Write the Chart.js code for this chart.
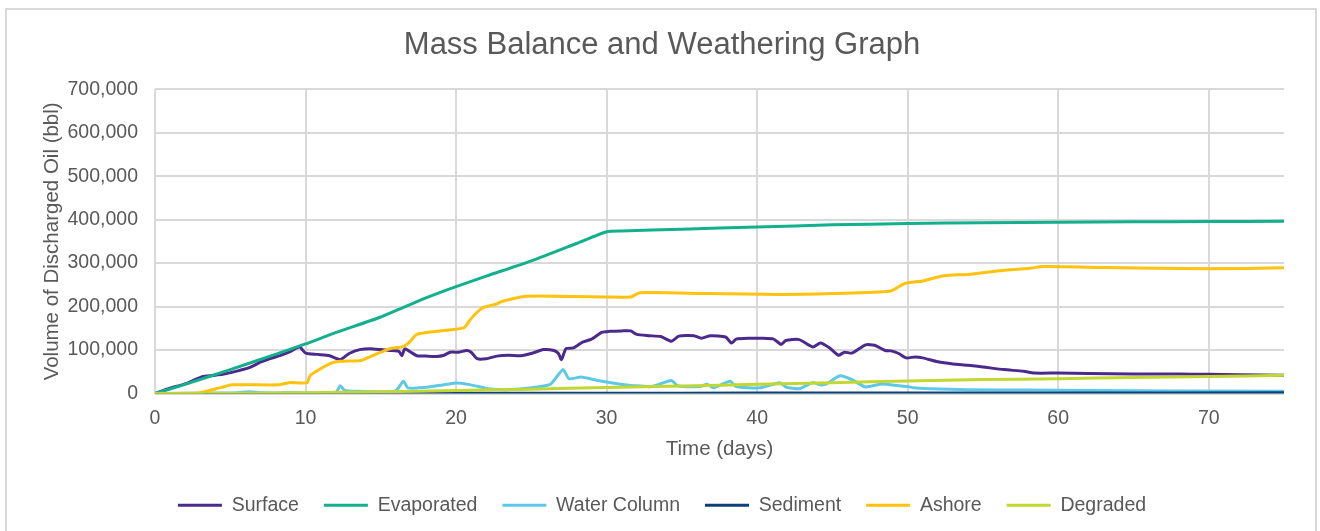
<!DOCTYPE html>
<html>
<head>
<meta charset="utf-8">
<script src="https://cdn.jsdelivr.net/npm/chart.js@4"></script>
<style>
  body { margin: 0; background: #fff; }
  #frame { position: absolute; left: 5px; top: 8px; width: 1308px; height: 530px; border: 2px solid #d9d9d9; }
  #chart { position: absolute; left: 0; top: 0; }
</style>
</head>
<body>
<div id="frame"></div>
<canvas id="chart" width="1320" height="531"></canvas>
<script>
const title = 'Mass Balance and Weathering Graph';
const seriesNames = ['Surface', 'Evaporated', 'Water Column', 'Sediment', 'Ashore', 'Degraded'];
const seriesColors = ['#4b2a8c', '#12b08c', '#5ec8e8', '#0d3f78', '#ffc20e', '#c2d831'];

const surfaceDays = [0, 1, 2, 3.2, 4.5, 5.5, 6.3, 7, 7.6, 8.3, 8.9, 9.6, 10, 10.8, 11.6, 12.3, 12.9, 13.6, 14.3, 15, 15.6, 16.2, 16.4, 16.6, 17, 17.4, 18, 18.7, 19.2, 19.6, 20.2, 20.7, 21, 21.4, 22, 22.7, 23.5, 24.3, 25, 25.8, 26.5, 26.8, 27, 27.3, 27.8, 28.4, 29, 29.7, 30.2, 31, 31.6, 32, 32.8, 33.6, 34.3, 34.8, 35.8, 36.3, 36.9, 37.9, 38.3, 38.6, 39.5, 40.3, 41.1, 41.6, 41.9, 42.8, 43.7, 44.2, 44.8, 45.4, 45.8, 46.3, 47.2, 47.8, 48.5, 48.9, 49.4, 49.9, 50.5, 51, 52, 53, 54, 55, 56.4, 57.7, 58.4, 60, 62, 65, 68, 70, 72, 75];
const surfaceVals = [0, 12000, 22000, 39000, 44000, 52000, 60000, 72000, 80000, 87000, 95000, 107000, 93000, 90000, 87000, 78000, 92000, 101000, 103000, 101000, 99000, 97000, 87000, 103000, 95000, 87000, 86000, 85000, 88000, 95000, 95000, 99000, 95000, 80000, 80000, 86000, 88000, 87000, 92000, 101000, 99000, 92000, 78000, 103000, 105000, 118000, 125000, 141000, 143000, 144000, 144000, 136000, 133000, 131000, 120000, 132000, 133000, 127000, 133000, 130000, 116000, 125000, 127000, 127000, 125000, 113000, 122000, 124000, 107000, 116000, 105000, 88000, 95000, 93000, 112000, 111000, 99000, 98000, 92000, 82000, 84000, 82000, 73000, 68000, 65000, 61000, 55000, 51000, 47000, 47000, 46000, 45000, 45000, 44000, 43000, 42000];

const evaporatedDays = [0, 2, 5, 8, 10, 12, 15, 18, 20, 22, 25, 28, 30, 31, 35, 40, 45, 50, 55, 60, 65, 70, 75];
const evaporatedVals = [0, 21000, 55000, 90000, 114000, 140000, 176000, 220000, 246000, 270000, 305000, 345000, 372000, 374000, 378000, 383000, 388000, 391000, 393000, 394000, 395000, 395500, 396000];

const waterDays = [0, 4, 5.5, 6.3, 7, 8, 9, 10, 11, 12, 12.3, 12.6, 13.5, 15, 16, 16.5, 16.8, 17.5, 18.2, 18.7, 19.2, 20, 20.8, 21.5, 22.1, 23.6, 25.4, 26.3, 27.1, 27.5, 28.3, 29.4, 30.8, 31.8, 33, 34.3, 34.7, 36.2, 36.7, 37.1, 38.2, 38.6, 40.2, 41.5, 41.9, 42.8, 43.7, 44.2, 44.6, 45.5, 46.3, 47.2, 48.3, 49.4, 50, 50.4, 51.5, 54, 58, 62, 75];
const waterVals = [0, 1000, 2000, 4000, 2000, 1000, 2000, 1000, 1000, 1000, 18000, 7000, 5000, 4000, 6000, 28000, 13000, 13000, 15000, 18000, 20000, 24000, 21000, 16000, 11000, 9000, 15000, 22000, 55000, 34000, 38000, 30000, 22000, 18000, 16000, 30000, 18000, 16000, 21000, 13000, 28000, 16000, 13000, 25000, 15000, 11000, 25000, 20000, 22000, 41000, 32000, 15000, 22000, 18000, 16000, 13000, 11000, 8500, 8000, 7000, 5000];

const sedimentDays = [0, 10, 20, 30, 40, 50, 60, 75];
const sedimentVals = [0, 100, 300, 600, 900, 1100, 1300, 1500];

const ashoreDays = [0, 2, 3, 4.4, 5.1, 8.2, 8.9, 10.1, 10.3, 10.8, 11.7, 12.3, 13.7, 14.3, 15, 15.6, 16.5, 16.9, 17.4, 18.7, 20.5, 20.9, 21.2, 21.6, 21.9, 22.7, 23, 24.3, 25.4, 30, 31.6, 32.2, 36.7, 41.6, 45, 48.8, 49.8, 51, 52.4, 54, 56.3, 58.1, 59, 63, 70, 75];
const ashoreVals = [0, 500, 2000, 14000, 20000, 20000, 25000, 25000, 41000, 53000, 70000, 74000, 76000, 85000, 95000, 103000, 108000, 118000, 136000, 143000, 151000, 168000, 180000, 193000, 199000, 206000, 211000, 222000, 224000, 222000, 222000, 232000, 230000, 228000, 230000, 235000, 253000, 259000, 271000, 274000, 283000, 288000, 292000, 290000, 287000, 289000];

const degradedDays = [0, 5, 10, 15, 20, 25, 30, 35, 40, 45, 50, 55, 60, 65, 70, 75];
const degradedVals = [0, 500, 2000, 4000, 7000, 10000, 14000, 17000, 21000, 25000, 29000, 32000, 34000, 37000, 39000, 42000];

const xTicks = [0, 10, 20, 30, 40, 50, 60, 70];
const yTicks = [0, 100000, 200000, 300000, 400000, 500000, 600000, 700000];

const allDays = [surfaceDays, evaporatedDays, waterDays, sedimentDays, ashoreDays, degradedDays];
const allVals = [surfaceVals, evaporatedVals, waterVals, sedimentVals, ashoreVals, degradedVals];

Chart.defaults.font.family = "'Liberation Sans', Arial, sans-serif";
Chart.defaults.color = '#595959';

const datasets = seriesNames.map((name, i) => ({
    label: name,
    data: allDays[i].map((d, j) => ({x: d, y: allVals[i][j]})),
    borderColor: seriesColors[i],
    backgroundColor: seriesColors[i],
    borderWidth: 3,
    pointRadius: 0,
    tension: 0.2,
    order: seriesNames.length - i
}));

new Chart(document.getElementById('chart'), {
    type: 'line',
    data: { datasets: datasets },
    options: {
        responsive: false,
        animation: false,
        layout: { padding: { left: 40, right: 36, top: 0, bottom: 6 } },
        plugins: {
            title: {
                display: true,
                text: title,
                font: { size: 31, weight: 'normal' },
                color: '#595959',
                padding: { top: 27, bottom: 25 }
            },
            legend: {
                position: 'bottom',
                labels: {
                    usePointStyle: true,
                    pointStyle: 'line',
                    pointStyleWidth: 44,
                    boxHeight: 19,
                    padding: 25,
                    font: { size: 19.5 },
                    sort: (a, b) => a.datasetIndex - b.datasetIndex
                }
            },
            tooltip: { enabled: false }
        },
        scales: {
            x: {
                type: 'linear',
                min: 0,
                max: 75,
                afterBuildTicks: (axis) => { axis.ticks = xTicks.map(v => ({value: v})); },
                afterFit: (axis) => { axis.height = 77; },
                ticks: { font: { size: 19.5 }, padding: 13, includeBounds: false },
                grid: { color: '#d9d9d9', lineWidth: 2, drawTicks: false },
                border: { display: false },
                title: { display: true, text: 'Time (days)', font: { size: 20.5 }, padding: { top: 8, bottom: 9 } }
            },
            y: {
                min: 0,
                max: 700000,
                afterBuildTicks: (axis) => { axis.ticks = yTicks.map(v => ({value: v})); },
                afterFit: (axis) => { axis.width = 115; },
                ticks: {
                    font: { size: 19.5 },
                    padding: 17,
                    callback: (v) => v.toLocaleString('en-US')
                },
                grid: { color: '#d9d9d9', lineWidth: 2, drawTicks: false },
                border: { display: false },
                title: { display: true, text: 'Volume of Discharged Oil (bbl)', font: { size: 20.5 }, padding: { top: 0, bottom: 0 } }
            }
        }
    }
});
</script>
</body>
</html>
